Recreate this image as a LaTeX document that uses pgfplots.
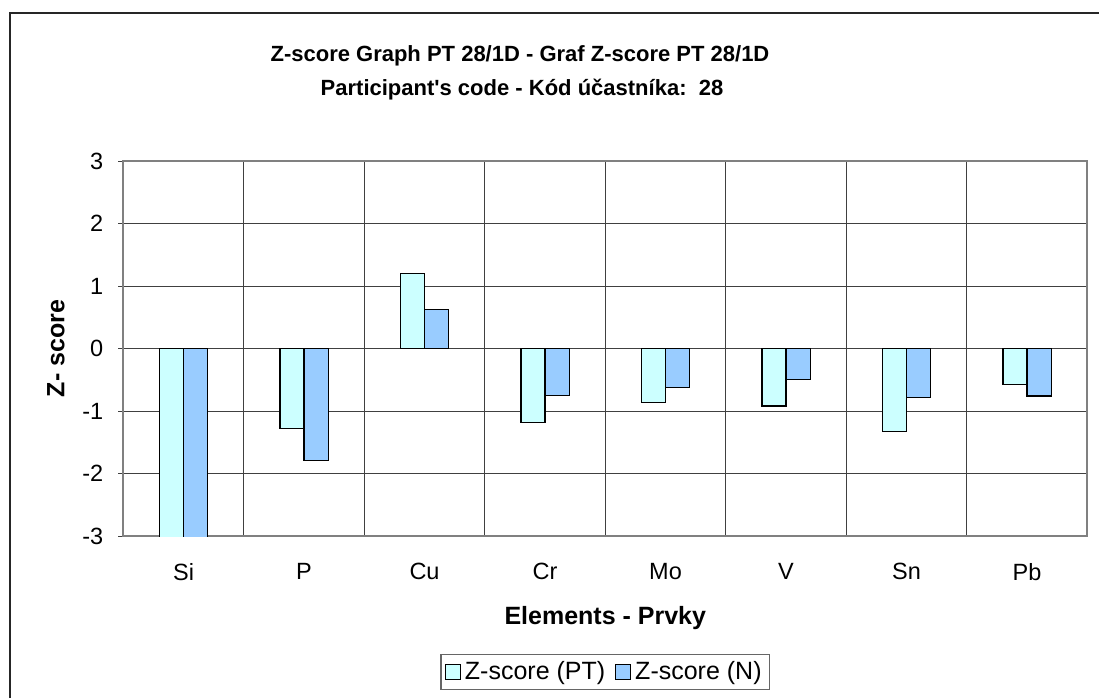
\documentclass[border=0pt]{standalone}
\usepackage{pgfplots}
\pgfplotsset{compat=1.18}
\usepackage{fontspec}
\setmainfont{Liberation Sans}
\definecolor{ptc}{HTML}{CCFFFF}
\definecolor{nc}{HTML}{99CCFF}
\definecolor{gridc}{HTML}{404040}
\pgfplotstableread{
x name pt n
0 Si -3.6 -3.6
1 P -1.28 -1.79
2 Cu 1.20 0.63
3 Cr -1.19 -0.75
4 Mo -0.87 -0.63
5 V -0.92 -0.49
6 Sn -1.33 -0.79
7 Pb -0.58 -0.76
}\datatable
\begin{document}
\begin{tikzpicture}
\useasboundingbox (0,0) rectangle (549.5pt,349pt);
\draw[black!85, line width=0.6pt] (5pt,0pt) -- (5pt,342.5pt) -- (549.5pt,342.5pt);
\node[font=\fontsize{11}{13}\selectfont\bfseries, anchor=base] at (260pt,318.15pt) {Z-score Graph PT 28/1D - Graf Z-score PT 28/1D};
\node[font=\fontsize{11}{13}\selectfont\bfseries, anchor=base] at (261pt,301.15pt) {Participant\textquotesingle s code - Kód účastníka:\ \ 28};
\begin{axis}[
  at={(61.65pt,81pt)}, anchor=south west,
  scale only axis, width=482pt, height=187.5pt,
  ybar=0pt, bar width=0.2,
  xmin=-0.5, xmax=7.5, ymin=-3, ymax=3,
  ytick={-3,-2,...,3},
  xtick=data,
  xticklabels={Si,P,Cu,Cr,Mo,V,Sn,Pb},
  minor xtick={0.5,1.5,...,6.5},
  xminorgrids, ymajorgrids,
  major x tick style={draw=none},
  minor x tick style={draw=none},
  ytick pos=left, tick align=outside,
  major tick length=2.5pt,
  ytick style={gridc, line width=0.5pt},
  grid style={gridc, line width=0.5pt},
  minor grid style={gridc, line width=0.5pt},
  axis line style={black!50, line width=0.8pt},
  /pgf/number format/assume math mode=true,
  ticklabel style={font=\fontsize{11.75}{14}\selectfont},
  xticklabel style={yshift=-7.5pt},
  yticklabel style={xshift=-4pt},
  xlabel={Elements - Prvky},
  ylabel={Z- score},
  label style={font=\fontsize{12.5}{15}\selectfont\bfseries},
  xlabel style={at={(axis description cs:0.5,-0.2187)}, anchor=center},
  ylabel style={at={(axis description cs:-0.0698,0.5)}, anchor=center},
  legend style={at={(axis description cs:0.5,-0.3627)}, anchor=center,
    draw=black!60, line width=0.6pt, font=\fontsize{12.5}{15}\selectfont,
    legend columns=2, inner xsep=2pt, inner ysep=1.5pt,
    /tikz/every even column/.append style={column sep=3pt}},
  legend image code/.code={\draw[#1, draw=black, line width=0.5pt] (0pt,-3.75pt) rectangle (7.5pt,3.75pt);},
  legend cell align=left,
  clip=true,
]
\addplot[fill=ptc, draw=black, line width=0.6pt] table[x=x, y=pt] {\datatable};
\addplot[fill=nc, draw=black, line width=0.6pt] table[x=x, y=n] {\datatable};
\legend{Z-score (PT), Z-score (N)}
\end{axis}
\end{tikzpicture}
\end{document}
